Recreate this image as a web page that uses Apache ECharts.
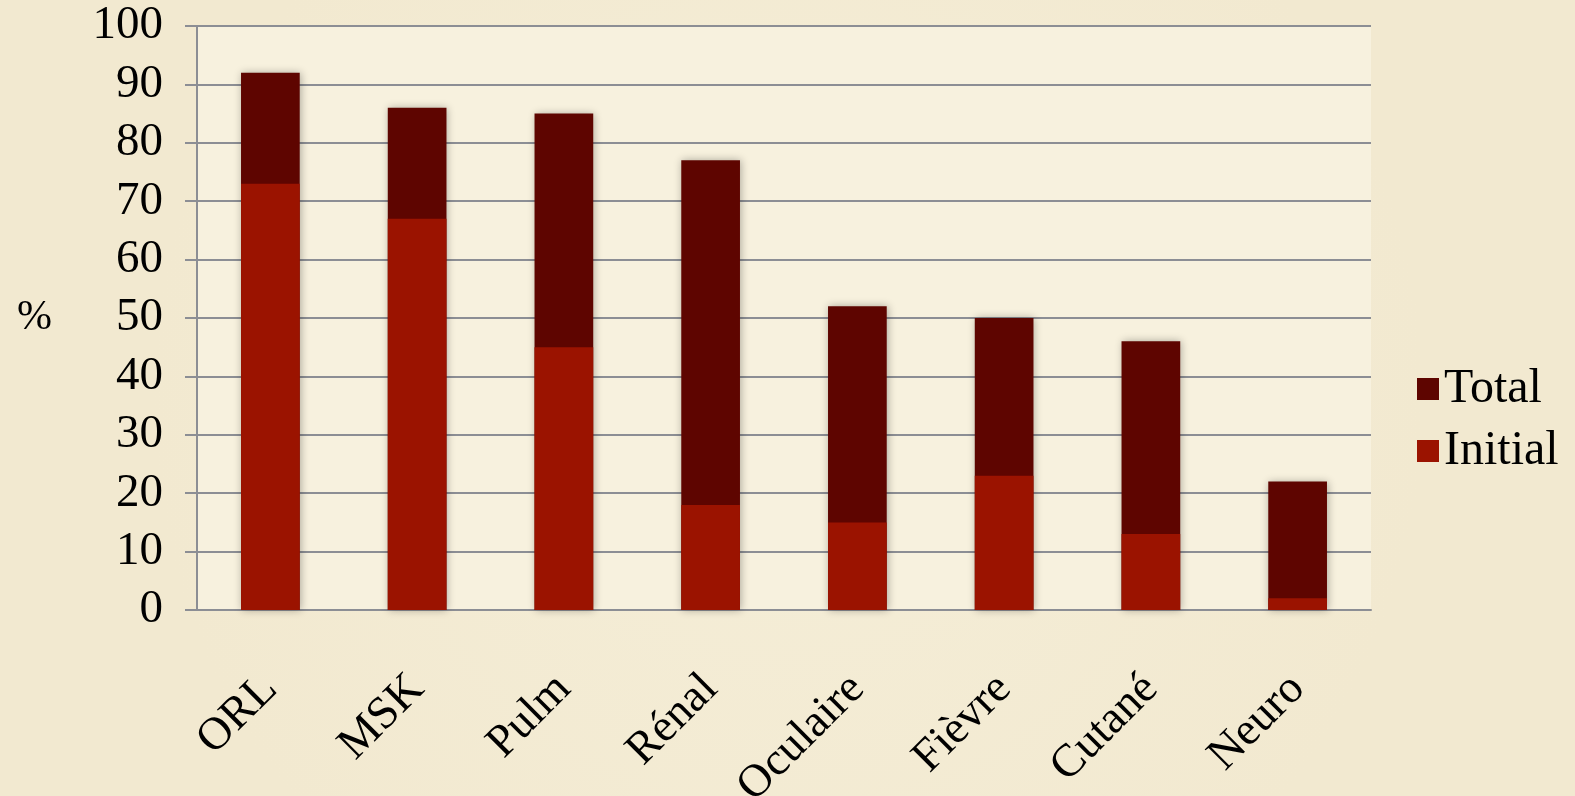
<!DOCTYPE html>
<html>
<head>
<meta charset="utf-8">
<script src="https://cdn.jsdelivr.net/npm/echarts@6/dist/echarts.min.js"></script>
<style>
html,body{margin:0;padding:0;background:#f3ebd3;}
#c{width:1575px;height:796px;}
</style>
</head>
<body>
<div id="c"></div>
<script>
const categories = ['ORL','MSK','Pulm','Rénal','Oculaire','Fièvre','Cutané','Neuro'];
const totalValues = [92,86,85,77,52,50,46,22];
const initialValues = [73,67,45,18,15,23,13,2];
const yTicks = [0,10,20,30,40,50,60,70,80,90,100];

const font = '"Liberation Serif", "DejaVu Serif", serif';
const gridColor = '#8c8e94';
const chart = echarts.init(document.getElementById('c'));
chart.setOption({
  backgroundColor: {
    type: 'radial', x: 0.5, y: 0.5, r: 0.8,
    colorStops: [{offset:0,color:'#f5eed8'},{offset:1,color:'#f2e9d0'}]
  },
  animation: false,
  grid: {left:197, right:204, top:26, bottom:186, show:true, backgroundColor:'#f7f1de', borderWidth:0,
         outerBoundsMode:'none', containLabel:false},
  legend: {
    data: ['Total','Initial'],
    orient: 'vertical',
    left: 1412, top: 360,
    itemWidth: 22, itemHeight: 22, itemGap: 14,
    icon: 'rect',
    textStyle: {fontFamily: font, fontSize: 48, color: '#000', padding:[20,0,0,0]}
  },
  xAxis: {
    type: 'category',
    data: categories,
    axisLine: {lineStyle:{color:gridColor, width:2}},
    axisTick: {length:11, lineStyle:{color:gridColor, width:2}},
    axisLabel: {rotate:45, margin:72, fontFamily: font, fontSize:46, color:'#000', interval:0}
  },
  yAxis: {
    type: 'value', min: 0, max: 100, interval: 10,
    name: '%', nameLocation: 'middle', nameRotate: 0, nameGap: 145,
    nameTextStyle: {fontFamily: font, fontSize: 42, color:'#000'},
    axisLine: {show:true, lineStyle:{color:gridColor, width:2}},
    axisTick: {show:true, length:12, lineStyle:{color:gridColor, width:2}},
    splitLine: {lineStyle:{color:gridColor, width:2}},
    axisLabel: {margin:34, fontFamily: font, fontSize:47, color:'#000',
      formatter: v => yTicks.includes(v) ? String(v) : ''}
  },
  series: [
    {name:'Total', type:'bar', data: totalValues, barWidth:'40%', barGap:'-100%',
     itemStyle:{color:'#5e0500', shadowBlur:8, shadowColor:'rgba(0,0,0,0.3)', shadowOffsetX:1}},
    {name:'Initial', type:'bar', data: initialValues, barWidth:'40%', barGap:'-100%',
     itemStyle:{color:'#9b1300'}}
  ]
});
</script>
</body>
</html>
